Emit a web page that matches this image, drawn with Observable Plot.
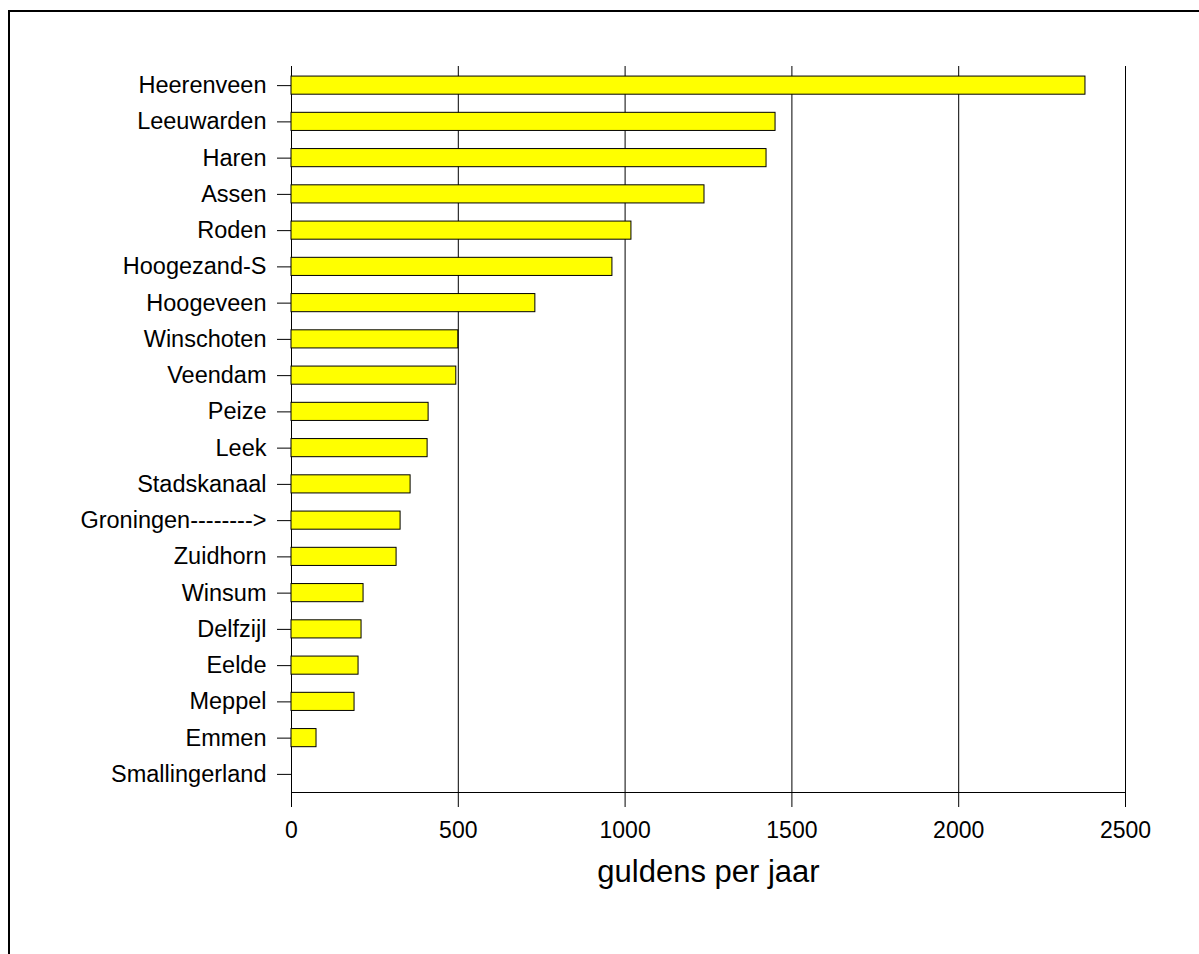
<!DOCTYPE html>
<html>
<head>
<meta charset="utf-8">
<script src="https://cdn.jsdelivr.net/npm/d3@7"></script>
<script src="https://cdn.jsdelivr.net/npm/@observablehq/plot@0.6"></script>
<style>
  html, body { margin: 0; padding: 0; background: #fff; }
  #chart svg { display: block; }
</style>
</head>
<body>
<div id="chart"></div>
<script>
const places = ["Heerenveen", "Leeuwarden", "Haren", "Assen", "Roden", "Hoogezand-S", "Hoogeveen",
  "Winschoten", "Veendam", "Peize", "Leek", "Stadskanaal", "Groningen-------->", "Zuidhorn",
  "Winsum", "Delfzijl", "Eelde", "Meppel", "Emmen", "Smallingerland"];
const values = [2380, 1451, 1424, 1238, 1019, 962, 731, 500, 494, 411, 408, 357, 327, 315, 216, 210, 201, 189, 75, 0];
const xTicks = [0, 500, 1000, 1500, 2000, 2500];
const xLabel = "guldens per jaar";

const data = places.map((p, i) => ({place: p, value: values[i]}));

const chart = Plot.plot({
  width: 1199,
  height: 954,
  marginLeft: 291,
  marginRight: 74,
  marginTop: 67,
  marginBottom: 162,
  style: {fontFamily: "'Liberation Sans', Arial, Helvetica, sans-serif", fontSize: "23px", color: "black", background: "white"},
  x: {domain: [0, 2500]},
  y: {domain: places, paddingInner: 0.5, paddingOuter: 0.25, round: false},
  marks: [
    Plot.ruleX(xTicks, {stroke: "black", strokeWidth: 1, insetTop: -1, insetBottom: -15}),
    Plot.frame({anchor: "bottom", stroke: "black"}),
    Plot.barX(data, {x: "value", y: "place", fill: "#ffff00", stroke: "black", strokeWidth: 1}),
    Plot.axisY({tickSize: 14, tickPadding: 11, fontSize: 23.5, label: null, stroke: "black", strokeOpacity: 1}),
    Plot.axisX({ticks: xTicks, tickSize: 0, tickPadding: 29, fontSize: 23, label: null, tickFormat: d => String(d)}),
    Plot.text([xLabel], {frameAnchor: "bottom", lineAnchor: "middle", dy: 80, fontSize: 31, fill: "black", text: d => d})
  ]
});
document.getElementById("chart").appendChild(chart);
d3.select(chart).append("rect")
  .attr("x", 9).attr("y", 11).attr("width", 1300).attr("height", 1100)
  .attr("fill", "none").attr("stroke", "black").attr("stroke-width", 2);
</script>
</body>
</html>
